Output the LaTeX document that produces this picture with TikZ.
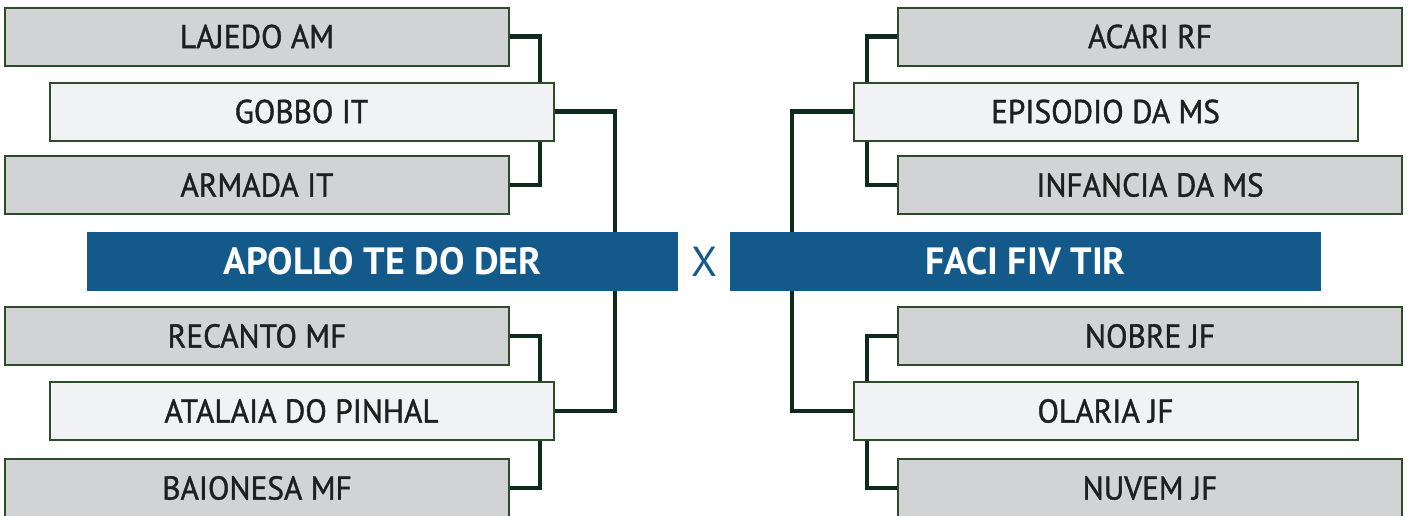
\documentclass[tikz,border=0pt]{standalone}
\usepackage{fontspec}
\setmainfont{PT Sans}
\newfontfamily\teamfont[FakeBold=1.2,FakeStretch=0.95]{PT Sans}
\usepackage{tikz}
\usetikzlibrary{positioning}
\definecolor{boxgray}{HTML}{D1D3D4}
\definecolor{boxlight}{HTML}{F1F2F3}
\definecolor{boxedge}{HTML}{2E4B2A}
\definecolor{linkgreen}{HTML}{0E2A1C}
\definecolor{finalblue}{HTML}{135A8B}
\tikzset{
x=1pt, y=-1pt,
team/.style={draw=boxedge,line width=2pt,fill=boxgray,rectangle,inner sep=0pt,
  minimum width=504pt,minimum height=58pt,text=black!88,
  font=\teamfont\fontsize{33}{35}\selectfont},
seed/.style={team,fill=boxlight},
final/.style={rectangle,fill=finalblue,inner sep=0pt,minimum width=591pt,minimum height=59pt,
  text=white,font=\bfseries\fontsize{38}{40}\selectfont},
link/.style={draw=linkgreen,line width=4.5pt}
}
\begin{document}
\begin{tikzpicture}
\useasboundingbox (0,0) rectangle (1410,515);
% left half
\node[team] (lajedo)   at (257,36.5) {LAJEDO AM};
\node[seed] (gobbo)    at (301.5,111.5) {GOBBO IT};
\node[team] (armada)   at (257,185) {ARMADA IT};
\node[final] (apollo)  at (382.5,261.5) {APOLLO TE DO DER};
\node[team] (recanto)  at (257,336) {RECANTO MF};
\node[seed] (atalaia)  at (301.5,411) {ATALAIA DO PINHAL};
\node[team] (baionesa) at (257,488) {BAIONESA MF};
% right half
\node[team] (acari)    at (1150,36.5) {ACARI RF};
\node[seed] (episodio) at (1105.5,111.5) {EPISODIO DA MS};
\node[team] (infancia) at (1150,185) {INFANCIA DA MS};
\node[final] (faci)    at (1025.5,261.5) {FACI FIV TIR};
\node[team] (nobre)    at (1150,336) {NOBRE JF};
\node[seed] (olaria)   at (1105.5,411) {OLARIA JF};
\node[team] (nuvem)    at (1150,488) {NUVEM JF};
\node[text=finalblue,font=\fontsize{42}{44}\selectfont] (vs) at (704,262) {X};

\coordinate (lbrk)  at (540,0);
\coordinate (lmain) at (615,0);
\coordinate (rbrk)  at (867,0);
\coordinate (rmain) at (792,0);

\draw[link] (lajedo.east)   -| (lbrk |- gobbo.north);
\draw[link] (armada.east)   -| (lbrk |- gobbo.south);
\draw[link] (gobbo.east)    -| (lmain |- apollo.north);
\draw[link] (recanto.east)  -| (lbrk |- atalaia.north);
\draw[link] (baionesa.east) -| (lbrk |- atalaia.south);
\draw[link] (atalaia.east)  -| (lmain |- apollo.south);
\draw[link] (acari.west)    -| (rbrk |- episodio.north);
\draw[link] (infancia.west) -| (rbrk |- episodio.south);
\draw[link] (episodio.west) -| (rmain |- faci.north);
\draw[link] (nobre.west)    -| (rbrk |- olaria.north);
\draw[link] (nuvem.west)    -| (rbrk |- olaria.south);
\draw[link] (olaria.west)   -| (rmain |- faci.south);
\end{tikzpicture}
\end{document}
